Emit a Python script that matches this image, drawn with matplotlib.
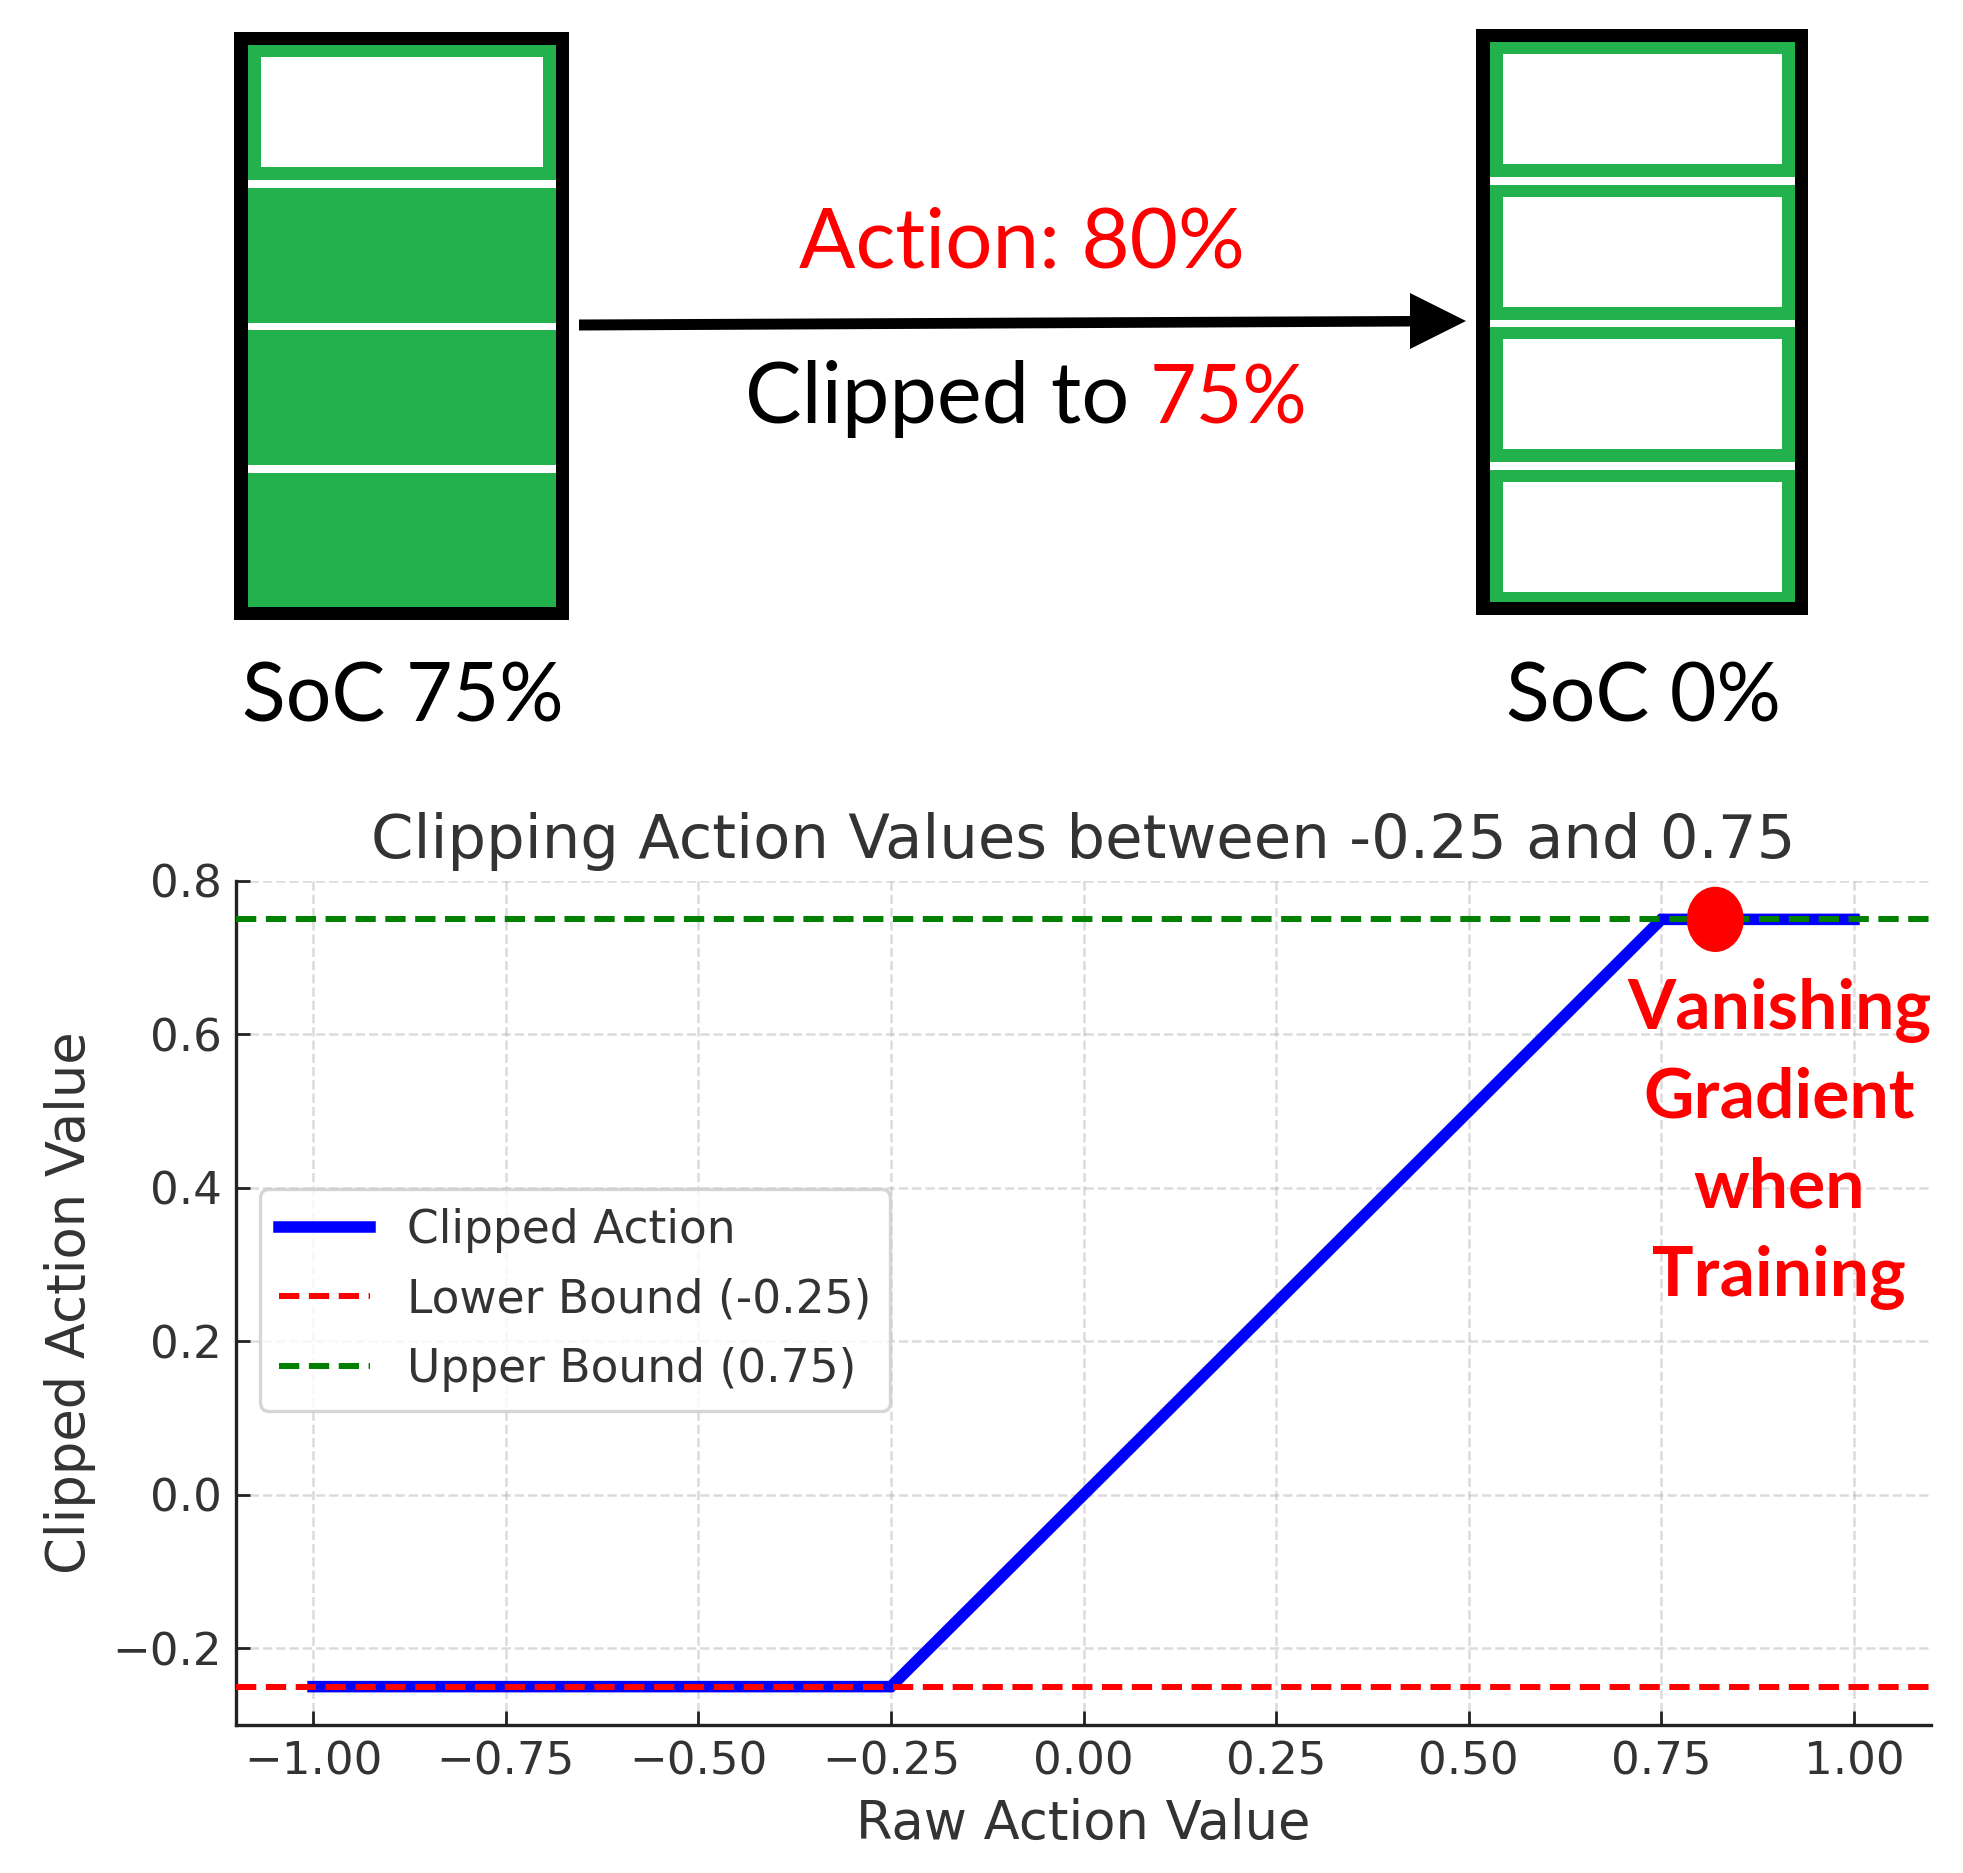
import matplotlib
matplotlib.use("Agg")
import matplotlib.pyplot as plt
from matplotlib.patches import Rectangle, Ellipse, Polygon

W, H = 1963, 1873

# chart data
raw_action = [-1.0, -0.25, 0.75, 1.0]
clipped_action = [-0.25, -0.25, 0.75, 0.75]
lower_bound = -0.25
upper_bound = 0.75
marker_x = [0.82]
marker_y = [0.75]
x_ticks = [-1.0, -0.75, -0.5, -0.25, 0.0, 0.25, 0.5, 0.75, 1.0]
y_ticks = [-0.2, 0.0, 0.2, 0.4, 0.6, 0.8]

# number of full cells in each battery
left_cells_full = [False, True, True, True]
right_cells_full = [False, False, False, False]

GREEN = "#23b14d"
DARK = "#333333"

fig = plt.figure(figsize=(W / 100, H / 100), dpi=100, facecolor="white")

#
# BOTTOM CHART
#
ax = fig.add_axes([236 / W, (H - 1725) / H, (1931 - 236) / W, 844 / H])
ax.plot(raw_action, clipped_action, color="blue", lw=8.3, label="Clipped Action",
        solid_capstyle="projecting", solid_joinstyle="miter", zorder=3)
ax.axhline(lower_bound, color="red", lw=4.3, ls=(0, (3.4, 1.6)), label="Lower Bound (-0.25)", zorder=4)
ax.axhline(upper_bound, color="green", lw=4.3, ls=(0, (3.4, 1.6)), label="Upper Bound (0.75)", zorder=4)
ax.add_patch(Ellipse((marker_x[0], marker_y[0]), 0.074, 0.085, color="red", lw=0, zorder=5))

ax.set_xlim(-1.1, 1.1)
ax.set_ylim(-0.3, 0.8)
ax.set_xticks(x_ticks)
ax.set_yticks(y_ticks)
ax.grid(True, ls="--", lw=1.8, color="#b0b0b0", alpha=0.45)
ax.set_axisbelow(True)
ax.tick_params(axis="both", direction="in", length=10, width=2, color="#222222",
               labelsize=32.5, labelcolor=DARK)
ax.tick_params(axis="x", pad=11)
ax.tick_params(axis="y", pad=10.3)
for s in ["top", "right"]:
    ax.spines[s].set_visible(False)
for s in ["left", "bottom"]:
    ax.spines[s].set_linewidth(2.4)
    ax.spines[s].set_color("#222222")

ax.set_title("Clipping Action Values between -0.25 and 0.75", fontsize=43.8, color=DARK, pad=16.5)
ax.set_xlabel("Raw Action Value", fontsize=38, color=DARK, labelpad=10.8)
ax.set_ylabel("Clipped Action Value", fontsize=38, color=DARK, labelpad=12)

leg = ax.legend(loc="lower left", bbox_to_anchor=(24 / 1695, (1725 - 1411) / 844), borderaxespad=0,
                fontsize=32.8, labelcolor=DARK, edgecolor="#cccccc", framealpha=0.8,
                labelspacing=0.54, borderpad=0.42)
leg.get_frame().set_linewidth(2.4)
leg.set_zorder(6)

#
# TOP DIAGRAM, in pixel coordinates
#
top = fig.add_axes([0, 0, 1, 1], zorder=5)
top.set_xlim(0, W)
top.set_ylim(H, 0)
top.axis("off")
top.patch.set_alpha(0)


def box(x0, y0, x1, y1, color):
    top.add_patch(Rectangle((x0, y0), x1 - x0, y1 - y0, facecolor=color, edgecolor="none"))


def draw_battery(x0, y0, x1, y1, cells):
    box(x0, y0, x1, y1, "black")
    box(x0 + 14, y0 + 13, x1 - 13, y1 - 13, GREEN)
    pitch = 142.5
    for i, full in enumerate(cells):
        cy = y0 + 25 + i * pitch
        if not full:
            box(x0 + 27, cy, x1 - 26, cy + 110, "white")
        if i > 0:
            box(x0 + 14, cy - 19.5, x1 - 13, cy - 12, "white")


draw_battery(234, 32, 569, 620, left_cells_full)
draw_battery(1476, 29, 1808, 615, right_cells_full)

# arrow
top.add_patch(Polygon([(579, 330.5), (1410, 326.5), (1410, 349), (1466, 321), (1410, 293),
                       (1410, 316), (579, 319.5)], closed=True, facecolor="black", edgecolor="none"))

FONT = "Lato"
top.text(799, 267, "Action: 80%", color="red", fontsize=60, family=FONT, ha="left", va="baseline")
top.text(745, 423, "Clipped to", color="black", fontsize=61, family=FONT, ha="left", va="baseline")
top.text(1150, 423, "75%", color="red", fontsize=58, family=FONT, ha="left", va="baseline")
top.text(403, 721, "SoC 75%", color="black", fontsize=58, family=FONT, ha="center", va="baseline")
top.text(1643, 721, "SoC 0%", color="black", fontsize=58, family=FONT, ha="center", va="baseline")

for line, base in zip(["Vanishing", "Gradient", "when", "Training"], [1029, 1118, 1207, 1296]):
    top.text(1779, base, line, color="red", fontsize=50, family=FONT, weight="bold",
             ha="center", va="baseline")

fig.savefig("out.png", dpi=100)
